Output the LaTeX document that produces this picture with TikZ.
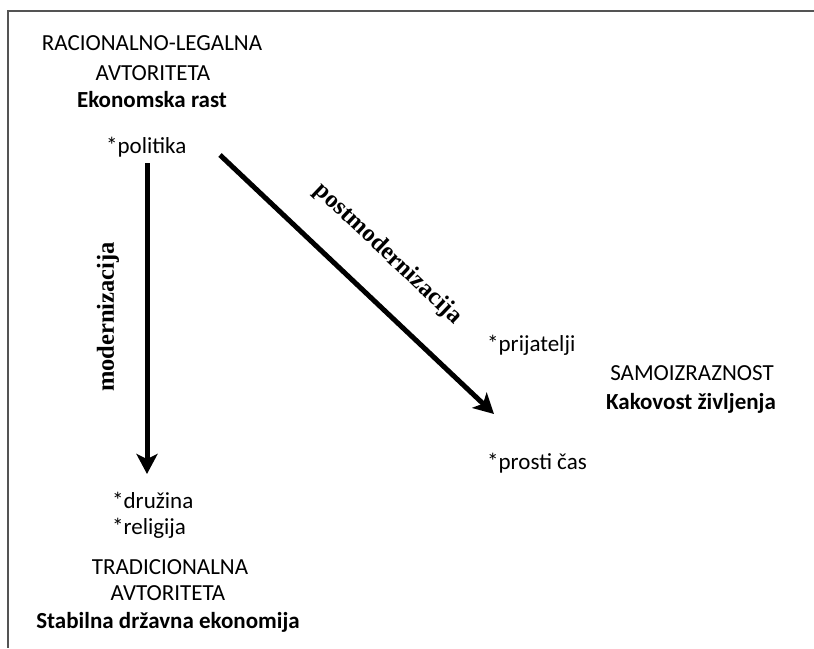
\documentclass[tikz,border=0pt]{standalone}
\usepackage{fontspec}
\setmainfont{Carlito}
\newfontfamily\serifbold{Liberation Serif}[BoldFont={Liberation Serif Bold}]
\usetikzlibrary{arrows.meta}
\tikzset{
  txt/.style={inner sep=0pt, font=\fontsize{23}{27}\selectfont},
  star/.style={txt, anchor=west},
  flow/.style={line width=5pt, -{Stealth[length=20pt,width=21pt,inset=5pt]}},
  flowlabel/.style={inner sep=0pt, font=\serifbold\bfseries\fontsize{24.5}{28}\selectfont}
}
\begin{document}
\begin{tikzpicture}[x=1pt,y=-1pt]
\useasboundingbox (0,0) rectangle (814,648);
\fill[white] (0,0) rectangle (814,648);
\draw[line width=2pt, color=black!67] (814,11) -- (8,11) -- (8,648);
% upper left corner
\node[txt] (racional) at (152,43) {RACIONALNO-LEGALNA};
\node[txt] (avtor1) at (153,73) {AVTORITETA};
\node[txt] (rast) at (152,100) {\textbf{Ekonomska rast}};
\node[star] (politika) at (106,147) {*politika};
% lower left corner
\node[star] (druzina) at (112,500) {*družina};
\node[star] (religija) at (112,528) {*religija};
\node[txt] (tradic) at (170,567) {TRADICIONALNA};
\node[txt] (avtor2) at (168,593) {AVTORITETA};
\node[txt] (stabil) at (168,622) {\textbf{Stabilna državna ekonomija}};
% right side
\node[star] (prijatelji) at (487,345) {*prijatelji};
\node[txt] (samo) at (692,373) {SAMOIZRAZNOST};
\node[txt] (kakovost) at (691,403) {\textbf{Kakovost življenja}};
\node[star] (prosti) at (487,463) {*prosti čas};
% arrows
\coordinate (modA) at (147,163);
\coordinate (modB) at (147,474);
\coordinate (postA) at (220,155);
\coordinate (postB) at (494,414);
\draw[flow] (modA) -- (modB);
\draw[flow] (postA) -- (postB);
\node[flowlabel, rotate=90] (modlabel) at (108,317) {modernizacija};
\node[flowlabel, rotate=-43.5] (postlabel) at (388,254) {postmodernizacija};
\end{tikzpicture}
\end{document}
